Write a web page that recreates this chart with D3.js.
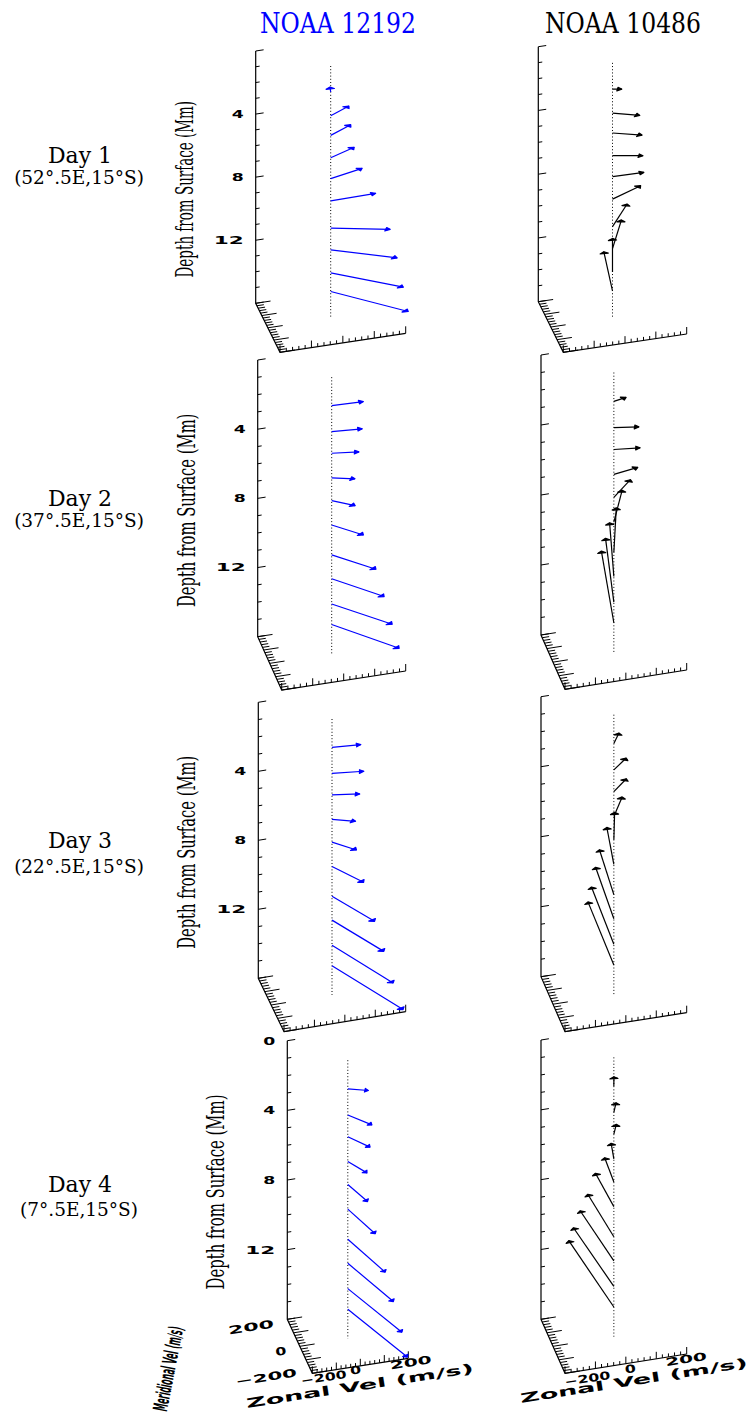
<!DOCTYPE html>
<html>
<head>
<meta charset="utf-8">
<script src="https://cdn.jsdelivr.net/npm/d3@7"></script>
<style>
  body { margin: 0; background: #fff; }
</style>
</head>
<body>
<div id="chart"></div>
<script>
const width = 754, height = 1416;

// depth of each inversion point (Mm), shared by all panels
const depths = [1.65, 3.15, 4.4, 5.82, 7.14, 8.55, 10.28, 11.66, 13.12, 14.3];

const regions = ["NOAA 12192", "NOAA 10486"];
const regionColors = ["#0000ff", "#000000"];
const days = ["Day 1", "Day 2", "Day 3", "Day 4"];
const places = ["(52°.5E,15°S)", "(37°.5E,15°S)", "(22°.5E,15°S)", "(7°.5E,15°S)"];

// zonal / meridional flow (m/s), one row per day, one value per depth
const zonal12192 = [
  [5, 68, 75, 85, 108, 144, 174, 185, 194, 200],
  [101, 96, 84, 69, 64, 82, 114, 134, 155, 171],
  [92, 100, 86, 69, 63, 73, 93, 112, 131, 152],
  [77, 76, 68, 54, 46, 62, 86, 108, 132, 145]
];
const merid12192 = [
  [38, 52, 58, 53, 42, 5, -78, -137, -192, -241],
  [-5, -13, -20, -32, -60, -104, -148, -181, -207, -240],
  [-13, -22, -25, -40, -82, -146, -222, -276, -331, -386],
  [-33, -94, -95, -99, -139, -200, -268, -314, -359, -395]
];
const zonal10486 = [
  [28, 79, 86, 92, 101, 105, 78, 70, 50, 32],
  [43, 78, 83, 83, 75, 69, 68, 60, 61, 59],
  [30, 54, 56, 52, 39, 28, 16, 13, 8, 5],
  [13, 20, 21, 13, 5, -11, -22, -35, -44, -48]
];
const merid10486 = [
  [-10, -47, -48, -34, -3, 68, 151, 202, 247, 297],
  [14, -22, -17, 22, 104, 211, 304, 375, 448, 507],
  [67, 67, 75, 125, 185, 259, 321, 370, 414, 457],
  [65, 64, 65, 111, 178, 251, 323, 384, 450, 508]
];

const depthTicks = d3.range(0, 17);          // 1 Mm steps
const velTicks = d3.range(-200, 201, 20);    // 20 m/s steps
const depthLabels = [[4, 8, 12], [4, 8, 12], [4, 8, 12], [0, 4, 8, 12]];
const merLabels = [200, 0, -200];
const zonLabels = [-200, 0, 200];

// panel placement: corner (zonal=-200, merid=-200, depth=16), axis vectors, depth height
const panels = [
  {row: 0, col: 0, cx: 280,   cy: 352.3,  zx: 125.7, zy: -19,   mx: -24.3, my: -49,   h: 252.3},
  {row: 0, col: 1, cx: 563.3, cy: 352.3,  zx: 123.4, zy: -18.3, mx: -25,   my: -50.6, h: 255},
  {row: 1, col: 0, cx: 281.7, cy: 690,    zx: 124,   zy: -19,   mx: -24,   my: -53.3, h: 276.7},
  {row: 1, col: 1, cx: 565,   cy: 689.3,  zx: 121.7, zy: -19.3, mx: -24,   my: -54.3, h: 280},
  {row: 2, col: 0, cx: 284,   cy: 1031.7, zx: 121.7, zy: -20,   mx: -25.7, my: -53.4, h: 276},
  {row: 2, col: 1, cx: 565,   cy: 1031.7, zx: 121.7, zy: -19,   mx: -24,   my: -55,   h: 280},
  {row: 3, col: 0, cx: 312.3, cy: 1373.3, zx: 96,    zy: -15,   mx: -25,   my: -54,   h: 278.6},
  {row: 3, col: 1, cx: 565,   cy: 1373.3, zx: 121.7, zy: -19.3, mx: -24,   my: -54,   h: 279.3}
];

const headLen = 14, headW = 13;  // arrow head size in m/s units

const svg = d3.select("#chart").append("svg")
  .attr("width", width)
  .attr("height", height)
  .style("font-family", "'DejaVu Serif', serif");

svg.append("rect").attr("width", width).attr("height", height).attr("fill", "#fff");

// squeeze a text horizontally so it is `len` pixels long
function fitText(sel, len) {
  sel.each(function() {
    const w = this.getComputedTextLength();
    const t = d3.select(this).attr("transform") || "";
    d3.select(this).attr("transform", t + " scale(" + (len / w) + ",1)");
  });
}

// column titles
const titleX = [338, 623];
svg.selectAll(".region").data(regions).enter().append("text")
  .attr("transform", (d, i) => "translate(" + titleX[i] + ",33)")
  .attr("text-anchor", "middle")
  .attr("font-size", 28)
  .attr("fill", (d, i) => regionColors[i])
  .text(d => d)
  .call(fitText, 156);

// row labels
const dayY = [163, 506, 848, 1192];
const placeY = [184, 527, 873, 1216];
svg.selectAll(".day").data(days).enter().append("text")
  .attr("x", 80).attr("y", (d, i) => dayY[i])
  .attr("text-anchor", "middle")
  .attr("font-size", 22)
  .text(d => d);
svg.selectAll(".place").data(places).enter().append("text")
  .attr("x", 79).attr("y", (d, i) => placeY[i])
  .attr("text-anchor", "middle")
  .attr("font-size", 18.5)
  .text(d => d);

function projector(p) {
  const fu = d3.scaleLinear().domain([-200, 200]).range([0, 1]);
  const fv = d3.scaleLinear().domain([-200, 200]).range([0, 1]);
  const fd = d3.scaleLinear().domain([0, 16]).range([-p.h, 0]);
  return (u, v, d) => [p.cx + fu(u) * p.zx + fv(v) * p.mx,
                       p.cy + fu(u) * p.zy + fv(v) * p.my + fd(d)];
}

const line = d3.line();

panels.forEach(p => {
  const proj = projector(p);
  const g = svg.append("g");
  const color = regionColors[p.col];
  const zl = Math.hypot(p.zx, p.zy), ux = p.zx / zl, uy = p.zy / zl;

  // axes
  const top = proj(-200, 200, 0), back = proj(-200, 200, 16),
        corner = proj(-200, -200, 16), zend = proj(200, -200, 16);
  g.append("path").attr("d", line([top, back, corner, zend]))
    .attr("fill", "none").attr("stroke", "#000").attr("stroke-width", 1.2);

  // depth ticks
  g.selectAll(".dt").data(depthTicks).enter().append("line")
    .each(function(d) {
      const a = proj(-200, 200, d), len = d % 4 === 0 ? 8 : 4;
      d3.select(this).attr("x1", a[0]).attr("y1", a[1])
        .attr("x2", a[0] + ux * len).attr("y2", a[1] + uy * len);
    })
    .attr("stroke", "#000").attr("stroke-width", 1);

  // meridional ticks
  g.selectAll(".mt").data(velTicks).enter().append("line")
    .each(function(v) {
      const a = proj(-200, v, 16), len = v % 100 === 0 ? 15 : 7;
      d3.select(this).attr("x1", a[0]).attr("y1", a[1])
        .attr("x2", a[0] + ux * len).attr("y2", a[1] + uy * len);
    })
    .attr("stroke", "#000").attr("stroke-width", 1);

  // zonal ticks
  g.selectAll(".zt").data(velTicks).enter().append("line")
    .each(function(u) {
      const a = proj(u, -200, 16), len = u % 100 === 0 ? 7 : 3.5;
      d3.select(this).attr("x1", a[0]).attr("y1", a[1])
        .attr("x2", a[0]).attr("y2", a[1] - len);
    })
    .attr("stroke", "#000").attr("stroke-width", 1);

  // zero line
  const z0 = proj(0, 0, 0), z1 = proj(0, 0, 16);
  g.append("line")
    .attr("x1", z0[0]).attr("y1", z0[1]).attr("x2", z1[0]).attr("y2", z1[1])
    .attr("stroke", "#000").attr("stroke-width", 1).attr("stroke-dasharray", "1,2.2");

  // flow arrows
  const us = (p.col === 0 ? zonal12192 : zonal10486)[p.row];
  const vs = (p.col === 0 ? merid12192 : merid10486)[p.row];
  const arrows = depths.map((d, i) => ({d: d, u: us[i], v: vs[i]}));

  g.selectAll(".arrow").data(arrows).enter().append("path")
    .attr("d", a => line([proj(0, 0, a.d), proj(a.u, a.v, a.d)]))
    .attr("stroke", color).attr("stroke-width", 1.2).attr("fill", "none");

  g.selectAll(".head").data(arrows).enter().append("path")
    .attr("d", a => {
      const m = Math.hypot(a.u, a.v) || 1, du = a.u / m, dv = a.v / m;
      const bu = a.u - headLen * du, bv = a.v - headLen * dv;
      return line([proj(a.u, a.v, a.d),
                   proj(bu - headW * dv, bv + headW * du, a.d),
                   proj(bu + headW * dv, bv - headW * du, a.d)]) + "Z";
    })
    .attr("fill", color).attr("stroke", color).attr("stroke-width", 1.2)
    .attr("stroke-linejoin", "round");

  if (p.col === 0) {
    // depth tick labels
    g.selectAll(".dl").data(depthLabels[p.row]).enter().append("text")
      .attr("x", d => proj(-200, 200, d)[0] - 12)
      .attr("y", d => proj(-200, 200, d)[1])
      .attr("dy", "0.36em")
      .attr("text-anchor", "end")
      .attr("font-family", "'DejaVu Sans', sans-serif")
      .attr("font-weight", "bold")
      .attr("font-size", 11)
      .attr("textLength", d => d >= 10 ? 30 : 12)
      .attr("lengthAdjust", "spacingAndGlyphs")
      .text(d => d);

    // depth axis title
    const tx = top[0] - 63, ty = (top[1] + back[1]) / 2 + 12;
    g.append("text")
      .attr("transform", "translate(" + tx + "," + ty + ") rotate(-90)")
      .attr("text-anchor", "middle")
      .attr("font-size", 24)
      .text("Depth from Surface (Mm)")
      .call(fitText, p.h * 0.70);
  }

  if (p.row === 3) {
    const angle = Math.atan2(p.zy, p.zx) * 180 / Math.PI;
    if (p.col === 0) {
      // meridional labels
      const moff = [[-13, 8], [-13, 8], [-15, 3]];
      g.selectAll(".ml").data(merLabels).enter().append("text")
        .attr("transform", (v, i) => {
          const a = proj(-200, v, 16);
          return "translate(" + (a[0] + moff[i][0]) + "," + (a[1] + moff[i][1]) + ") rotate(" + angle + ")";
        })
        .attr("text-anchor", "end")
        .attr("font-family", "'DejaVu Sans', sans-serif")
        .attr("font-weight", "bold")
        .attr("font-size", 11)
        .attr("textLength", v => v === 0 ? 11 : (v < 0 ? 62 : 46))
        .attr("lengthAdjust", "spacingAndGlyphs")
        .text(v => v < 0 ? "\u2212" + Math.abs(v) : v);

      g.append("text")
        .attr("transform", "translate(175,1370) rotate(-79)")
        .attr("text-anchor", "middle")
        .attr("font-family", "'DejaVu Sans', sans-serif")
        .attr("font-weight", "bold")
        .attr("font-size", 20)
        .text("Meridional Vel (m/s)")
        .call(fitText, 86);
    }
    // zonal labels
    const zoff = p.col === 0 ? [[12, 8], [-4, 8], [3, 8]] : [[23, 9], [5, 9], [0, 9]];
    g.selectAll(".zl").data(zonLabels).enter().append("text")
      .attr("transform", (u, i) => {
        const a = proj(u, -200, 16);
        return "translate(" + (a[0] + zoff[i][0]) + "," + (a[1] + zoff[i][1]) + ") rotate(" + angle + ")";
      })
      .attr("text-anchor", "middle")
      .attr("font-family", "'DejaVu Sans', sans-serif")
      .attr("font-weight", "bold")
      .attr("font-size", 11)
      .attr("textLength", u => u === 0 ? 11 : (u < 0 ? 46 : 42))
      .attr("lengthAdjust", "spacingAndGlyphs")
      .text(u => u < 0 ? "\u2212" + Math.abs(u) : u);

    const zs = p.col === 0 ? [247, 1408] : [521, 1403];
    g.append("text")
      .attr("transform", "translate(" + zs[0] + "," + zs[1] + ") rotate(" + angle + ")")
      .attr("font-family", "'DejaVu Sans', sans-serif")
      .attr("font-weight", "bold")
      .attr("font-size", 13)
      .attr("textLength", 230)
      .attr("lengthAdjust", "spacingAndGlyphs")
      .text("Zonal Vel (m/s)");
  }
});
</script>
</body>
</html>
